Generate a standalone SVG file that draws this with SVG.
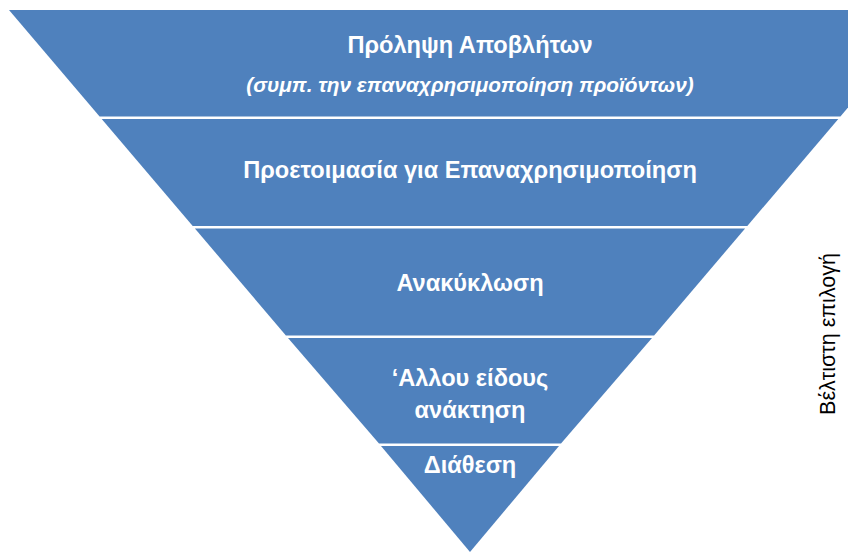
<svg xmlns="http://www.w3.org/2000/svg" width="848" height="553" viewBox="0 0 848 553">
<style>
.band{fill:#4F81BD;stroke:none}
.t{font-family:"Liberation Sans",Arial,sans-serif;font-weight:bold;fill:#FFFFFF;text-anchor:middle;font-size:23.6px}
.it{font-style:italic;font-size:20.8px}
.side{font-family:"Liberation Sans",Arial,sans-serif;fill:#000000;text-anchor:middle;font-size:21.5px}
</style>
<rect width="848" height="553" fill="#FFFFFF"/>
<g id="band1">
<polygon class="band" points="9,10 931,10 840.4,116.5 99.6,116.5"/>
<text class="t" x="470" y="53">Πρόληψη Αποβλήτων</text>
<text class="t it" x="470" y="92">(συμπ. την επαναχρησιμοποίηση προϊόντων)</text>
</g>
<g id="band2">
<polygon class="band" points="101.7,119 838.3,119 747.3,226 192.7,226"/>
<text class="t" x="470" y="178">Προετοιμασία για Επαναχρησιμοποίηση</text>
</g>
<g id="band3">
<polygon class="band" points="194.9,228.5 745.1,228.5 654.1,335.5 285.9,335.5"/>
<text class="t" x="470" y="291">Ανακύκλωση</text>
</g>
<g id="band4">
<polygon class="band" points="288,338 652,338 561,443.5 379,443.5"/>
<text class="t" x="470" y="386">‘Αλλου είδους</text>
<text class="t" x="470" y="418">ανάκτηση</text>
</g>
<g id="band5">
<polygon class="band" points="381,446 559,446 470,552"/>
<text class="t" x="470" y="473">Διάθεση</text>
</g>
<g id="connectors"></g>
<g id="label">
<text class="side" transform="translate(835,334) rotate(-90)">Βέλτιστη επιλογή</text>
</g>
</svg>
